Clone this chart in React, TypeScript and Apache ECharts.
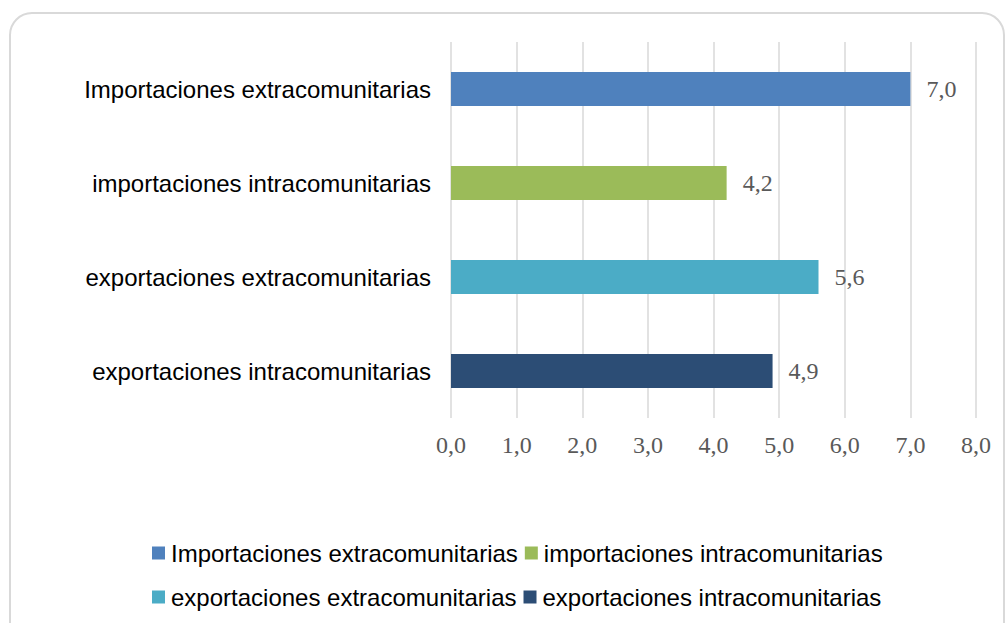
import React, { useEffect, useRef } from "react";
import * as echarts from "echarts";

const categories = [
  "Importaciones extracomunitarias",
  "importaciones intracomunitarias",
  "exportaciones extracomunitarias",
  "exportaciones intracomunitarias",
];
const values = [7.0, 4.2, 5.6, 4.9];
const colors = ["#4f81bd", "#9bbb59", "#4bacc6", "#2c4d75"];

const fmt = (v: number) => v.toFixed(1).replace(".", ",");

export default function App() {
  const ref = useRef<HTMLDivElement>(null);
  useEffect(() => {
    document.body.style.margin = "0";
    const chart = echarts.init(ref.current!, null, { renderer: "svg" });
    const series = categories.map((name, i) => ({
      name,
      type: "bar",
      stack: "all",
      barWidth: 34,
      itemStyle: { color: colors[i] },
      label: {
        show: true,
        position: "right",
        distance: 16,
        formatter: (p: any) => fmt(p.value),
        fontFamily: "Liberation Serif",
        fontSize: 24,
        color: "#595959",
      },
      data: categories.map((_, j) => (j === i ? values[i] : null)),
    }));
    const legendText = { fontFamily: "Liberation Sans", fontSize: 24, color: "#000", padding: [0, 0, 0, 1] };
    chart.setOption({
      animation: false,
      backgroundColor: "#ffffff",
      graphic: [
        {
          type: "rect",
          shape: { x: 10, y: 13, width: 994, height: 660, r: 22 },
          style: { fill: "none", stroke: "#d9d9d9", lineWidth: 2 },
          z: -1,
        },
      ],
      grid: { left: 451, right: 31, top: 42, bottom: 205 },
      legend: [
        {
          data: categories.slice(0, 2),
          top: 536,
          left: 147,
          itemWidth: 13,
          itemHeight: 13,
          itemGap: 7,
          icon: "rect",
          textStyle: legendText,
        },
        {
          data: categories.slice(2, 4),
          top: 580,
          left: 147,
          itemWidth: 13,
          itemHeight: 13,
          itemGap: 7,
          icon: "rect",
          textStyle: legendText,
        },
      ],
      xAxis: {
        type: "value",
        min: 0,
        max: 8,
        interval: 1,
        axisLine: { show: false },
        axisTick: { show: false },
        splitLine: { show: true, lineStyle: { color: "#d9d9d9", width: 1.5 } },
        axisLabel: {
          formatter: (v: number) => fmt(v),
          fontFamily: "Liberation Serif",
          fontSize: 24,
          color: "#595959",
          margin: 15,
        },
      },
      yAxis: {
        type: "category",
        inverse: true,
        data: categories,
        axisLine: { show: false },
        axisTick: { show: false },
        axisLabel: {
          fontFamily: "Liberation Sans",
          fontSize: 24,
          color: "#000",
          margin: 20,
        },
      },
      series,
    });
    return () => chart.dispose();
  }, []);
  return <div ref={ref} style={{ width: 1007, height: 623 }} />;
}
